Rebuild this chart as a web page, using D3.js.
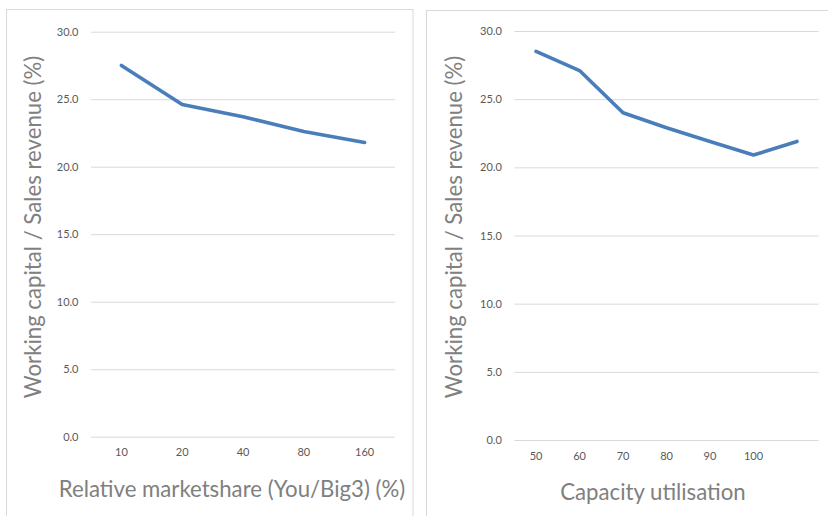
<!DOCTYPE html>
<html>
<head>
<meta charset="utf-8">
<script src="https://cdn.jsdelivr.net/npm/d3@7"></script>
<style>
  html, body { margin: 0; padding: 0; background: #ffffff; }
  svg { display: block; font-family: Lato, "Open Sans", sans-serif; }
</style>
</head>
<body>
<svg id="chart" width="828" height="516"></svg>
<script>
// ---- Data ----
const yTicks = [0, 5, 10, 15, 20, 25, 30];
const yTitle = "Working capital / Sales revenue (%)";

const marketshareCategories = ["10", "20", "40", "80", "160"];
const marketshareValues = [27.5, 24.6, 23.7, 22.6, 21.8];
const marketshareTitle = "Relative marketshare (You/Big3) (%)";

const capacityCategories = ["50", "60", "70", "80", "90", "100", ""];
const capacityValues = [28.5, 27.1, 24.0, 22.9, 21.9, 20.9, 21.9];
const capacityTitle = "Capacity utilisation";

// ---- Drawing ----
const svg = d3.select("#chart");

function drawPanel(opt) {
  const g = svg.append("g");
  // panel border
  g.append("rect")
    .attr("x", opt.box[0]).attr("y", opt.box[1])
    .attr("width", opt.box[2]).attr("height", opt.box[3])
    .attr("fill", "#ffffff").attr("stroke", "#d9d9d9").attr("stroke-width", 1);

  const x = d3.scaleBand().domain(opt.categories.map((c, i) => i))
    .range([opt.left, opt.right]).padding(0);
  const y = d3.scaleLinear().domain([0, 30]).range([opt.bottom, opt.top]);

  // y axis with gridlines
  const yAxis = d3.axisLeft(y).tickValues(yTicks).tickFormat(d3.format(".1f"))
    .tickSize(-(opt.right - opt.left)).tickPadding(12.5);
  const ya = g.append("g").attr("transform", `translate(${opt.left},0)`).call(yAxis);
  ya.select(".domain").remove();
  ya.selectAll(".tick line").attr("stroke", "#d9d9d9").attr("stroke-width", 1);
  ya.selectAll(".tick text").attr("fill", "#595959").attr("font-size", "11px")
    .attr("font-family", "Lato, 'Open Sans', sans-serif");

  // x axis labels
  const xAxis = d3.axisBottom(x).tickFormat(i => opt.categories[i]).tickSize(0).tickPadding(opt.xPad);
  const xa = g.append("g").attr("transform", `translate(0,${opt.bottom})`).call(xAxis);
  xa.select(".domain").remove();
  xa.selectAll(".tick text").attr("fill", "#595959").attr("font-size", "11px")
    .attr("font-family", "Lato, 'Open Sans', sans-serif");

  // line
  const line = d3.line()
    .x((d, i) => x(i) + x.bandwidth() / 2)
    .y(d => y(d));
  g.append("path").datum(opt.values)
    .attr("d", line)
    .attr("fill", "none")
    .attr("stroke", "#4a7ebb")
    .attr("stroke-width", 3.6)
    .attr("stroke-linejoin", "round")
    .attr("stroke-linecap", "round");

  // x title
  g.append("text")
    .attr("x", opt.xTitleX).attr("y", opt.xTitleY)
    .attr("text-anchor", "middle")
    .attr("fill", "#808080").attr("font-size", "22.2px")
    .text(opt.xTitle);

  // y title
  g.append("text")
    .attr("transform", `translate(${opt.yTitleX},${opt.yTitleY}) rotate(-90)`)
    .attr("text-anchor", "middle")
    .attr("fill", "#808080").attr("font-size", "22.2px")
    .text(yTitle);
}

drawPanel({
  box: [6.5, 9.5, 406.5, 530],
  left: 91, right: 395, top: 31.7, bottom: 436.7,
  categories: marketshareCategories, values: marketshareValues,
  xPad: 12,
  xTitle: marketshareTitle, xTitleX: 232, xTitleY: 497,
  yTitleX: 40.5, yTitleY: 227
});

drawPanel({
  box: [426.5, 10.5, 420, 530],
  left: 514.3, right: 818.7, top: 31, bottom: 440,
  categories: capacityCategories, values: capacityValues,
  xPad: 12,
  xTitle: capacityTitle, xTitleX: 653, xTitleY: 499.5,
  yTitleX: 461.5, yTitleY: 227
});
</script>
</body>
</html>
